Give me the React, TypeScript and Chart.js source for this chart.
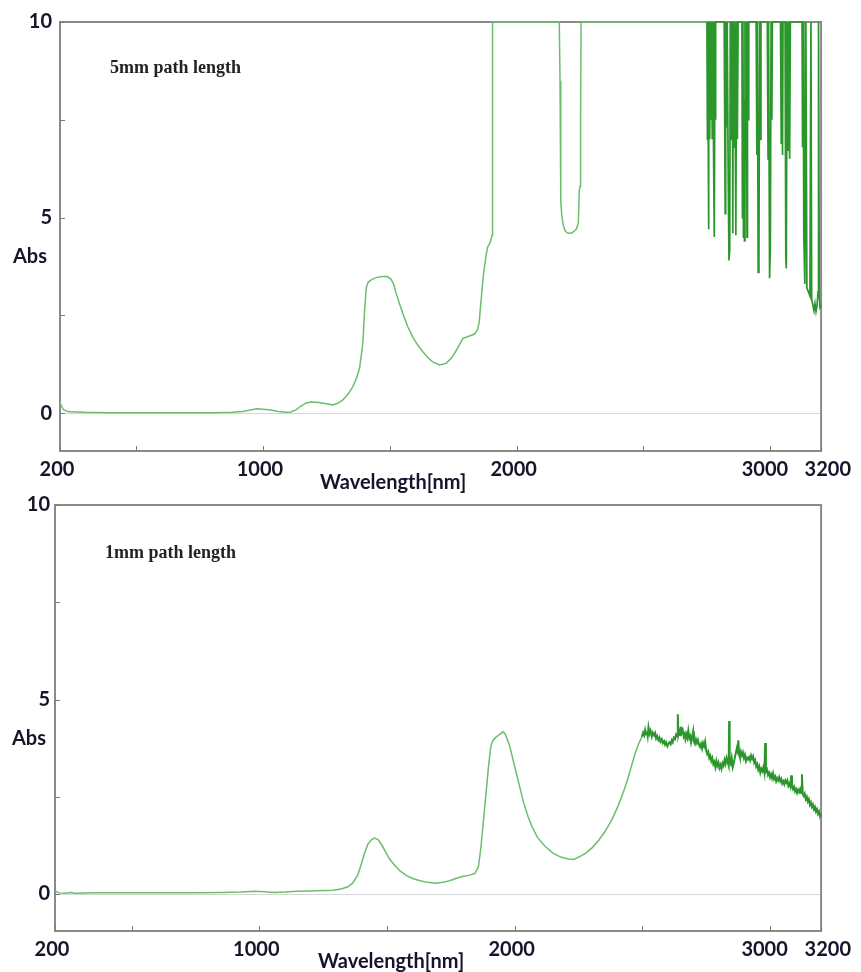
import React, { useEffect, useRef } from 'react';
import { Chart, registerables } from 'chart.js';
Chart.register(...registerables);

// ---------- data: 5 mm path length ----------
const wl5 = [
  200, 205, 215, 230, 260, 300, 400, 500, 600, 700, 800, 880, 920, 950, 975, 1000, 1030, 1060, 1090, 1110,
  1130, 1150, 1170, 1190, 1220, 1250, 1275, 1295, 1314, 1335, 1354, 1368, 1381, 1394, 1400, 1407, 1415, 1430,
  1450, 1470, 1490, 1505, 1515, 1525, 1538, 1551, 1570, 1590, 1610, 1630, 1650, 1669, 1696, 1722, 1742, 1762,
  1788, 1814, 1834, 1845, 1852, 1860, 1870, 1880, 1886, 1895, 1903, 1905,
  2168, 2171, 2174, 2178, 2184, 2190, 2197, 2205, 2215, 2225, 2235, 2243, 2247, 2250, 2252, 2254,
  2750, 2752, 2753, 2755, 2756, 2758, 2761, 2763, 2766, 2768, 2771, 2774, 2776, 2779, 2782, 2784, 2785,
  2818, 2820, 2822, 2824, 2828, 2830, 2834, 2837, 2840, 2842, 2845, 2847,
  2850, 2852, 2854, 2857, 2860, 2864, 2867, 2870, 2873,
  2888, 2890, 2892, 2894, 2896, 2898, 2900, 2903, 2905, 2908, 2910, 2913, 2915,
  2944, 2947, 2949, 2952, 2955, 2958, 2961, 2963,
  2988, 2991, 2993, 2997, 3000, 3003, 3006, 3008,
  3040, 3043, 3045, 3048, 3050, 3058, 3061, 3063, 3066, 3069, 3072, 3076, 3079,
  3125, 3127, 3129, 3132, 3136, 3140, 3144, 3150, 3156, 3160, 3163, 3168, 3172, 3176, 3180, 3184, 3188, 3190,
  3193, 3196, 3200,
];
const abs5 = [
  0.28, 0.18, 0.08, 0.04, 0.03, 0.02, 0.01, 0.01, 0.01, 0.01, 0.01, 0.02, 0.04, 0.08, 0.11, 0.1, 0.08, 0.04, 0.02, 0.03,
  0.08, 0.18, 0.26, 0.28, 0.27, 0.24, 0.21, 0.25, 0.33, 0.48, 0.67, 0.88, 1.15, 1.8, 2.55, 3.2, 3.35, 3.42,
  3.47, 3.49, 3.49, 3.42, 3.3, 3.06, 2.8, 2.55, 2.22, 1.95, 1.74, 1.57, 1.42, 1.31, 1.23, 1.27, 1.4, 1.6,
  1.91, 1.97, 2.02, 2.12, 2.3, 2.9, 3.6, 4.05, 4.25, 4.35, 4.55, 10,
  10, 8.5, 5.4, 5.05, 4.8, 4.68, 4.62, 4.6, 4.6, 4.64, 4.7, 4.85, 5.7, 5.8, 7.6, 10,
  10, 7, 10, 7.2, 4.7, 10, 7, 10, 7.5, 10, 7, 10, 6.8, 4.5, 10, 7.5, 10,
  10, 7.6, 5.1, 10, 7.3, 10, 6, 3.9, 4.2, 10, 7, 10,
  10, 4.6, 10, 6.8, 10, 4.55, 10, 7, 10,
  10, 5, 10, 4.5, 8, 4.4, 10, 6.5, 10, 4.5, 10, 7.5, 10,
  10, 6.6, 10, 3.6, 4, 10, 7, 10,
  10, 6.5, 10, 3.45, 4.2, 10, 7.5, 10,
  10, 6.9, 10, 6.6, 10, 10, 4, 3.7, 10, 6.7, 10, 6.5, 10,
  10, 6.8, 10, 4.5, 3.3, 10, 3.2, 3.1, 3.0, 10, 2.9, 2.75, 2.62, 2.8, 2.6, 2.75, 3.1, 10,
  3.0, 2.7, 2.75,
];

// ---------- data: 1 mm path length ----------
const wl1 = [
  200, 215, 240, 260, 280, 350, 450, 550, 650, 750, 850, 930, 980, 1020, 1060, 1100, 1150, 1200, 1250, 1290,
  1320, 1345, 1365, 1385, 1400, 1412, 1425, 1440, 1452, 1465, 1480, 1495, 1510, 1530, 1550, 1575, 1600, 1630,
  1660, 1690, 1720, 1745, 1770, 1795, 1820, 1845, 1858, 1868, 1878, 1888, 1898, 1907, 1915, 1925, 1940, 1955,
  1962, 1970, 1980, 1992, 2005, 2020, 2036, 2052, 2068, 2090, 2120, 2150, 2180, 2210, 2230, 2255, 2280, 2305,
  2330, 2355, 2380, 2405, 2430, 2446, 2460, 2472, 2485, 2498,
  2503, 2507, 2511, 2515, 2518, 2521, 2524, 2528, 2532, 2537, 2541, 2546, 2550, 2554, 2558, 2563, 2567, 2571,
  2576, 2580, 2585, 2589, 2593, 2598, 2602, 2606, 2611, 2615, 2619, 2623, 2628, 2632, 2636, 2639, 2641, 2644,
  2648, 2651, 2654, 2658, 2662, 2666, 2669, 2673, 2676, 2680, 2684, 2688, 2691, 2695, 2699, 2702, 2706, 2710,
  2714, 2718, 2722, 2726, 2730, 2734, 2738, 2742, 2746, 2750, 2754, 2758, 2762, 2766, 2770, 2774, 2778, 2782,
  2786, 2790, 2794, 2798, 2802, 2806, 2810, 2814, 2818, 2822, 2826, 2830, 2834, 2838, 2840, 2842, 2846, 2850,
  2854, 2858, 2862, 2866, 2870, 2873, 2876, 2879, 2882, 2886, 2890, 2894, 2898, 2902, 2906, 2910, 2914, 2918,
  2922, 2926, 2930, 2934, 2938, 2942, 2946, 2950, 2954, 2958, 2962, 2966, 2970, 2974, 2978, 2981, 2984, 2988,
  2992, 2996, 3000, 3004, 3008, 3012, 3016, 3020, 3024, 3028, 3032, 3036, 3040, 3044, 3048, 3052, 3056, 3060,
  3064, 3068, 3072, 3076, 3080, 3083, 3086, 3090, 3094, 3098, 3102, 3106, 3110, 3114, 3118, 3122, 3125, 3128,
  3132, 3136, 3140, 3144, 3148, 3152, 3156, 3160, 3164, 3168, 3172, 3176, 3180, 3184, 3188, 3192, 3196, 3200,
];
const abs1 = [
  0.08, 0.03, 0.02, 0.04, 0.02, 0.03, 0.03, 0.03, 0.03, 0.03, 0.04, 0.05, 0.07, 0.06, 0.04, 0.05, 0.07, 0.08, 0.09, 0.1,
  0.13, 0.18, 0.28, 0.48, 0.78, 1.05, 1.28, 1.4, 1.44, 1.4, 1.26, 1.08, 0.9, 0.74, 0.6, 0.48, 0.4, 0.34,
  0.3, 0.28, 0.3, 0.34, 0.4, 0.45, 0.48, 0.53, 0.7, 1.2, 1.9, 2.6, 3.3, 3.8, 3.95, 4.02, 4.1, 4.17,
  4.12, 4.0, 3.82, 3.5, 3.15, 2.75, 2.33, 2.0, 1.73, 1.45, 1.22, 1.05, 0.95, 0.9, 0.89, 0.96, 1.06, 1.2,
  1.39, 1.62, 1.9, 2.26, 2.7, 3.02, 3.35, 3.62, 3.85, 4.04,
  4.15, 4.08, 4.22, 4.1, 4.18, 4.06, 4.28, 4.12, 4.2, 4.05, 4.15, 4.08, 4.14, 4.0, 4.06, 3.96, 4.02, 3.92,
  3.98, 3.88, 3.93, 3.84, 3.9, 3.8, 3.86, 3.9, 3.85, 3.95, 3.9, 4.02, 3.98, 4.1, 4.05, 4.62, 4.1, 4.2,
  4.08, 4.3, 4.15, 4.22, 4.05, 4.12, 3.98, 4.1, 4.02, 4.2, 4.0, 4.06, 3.9, 4.02, 4.18, 3.92, 3.86, 3.98,
  3.88, 3.96, 3.84, 3.78, 3.86, 3.74, 3.88, 3.8, 3.92, 3.7, 3.6, 3.66, 3.5, 3.56, 3.42, 3.5, 3.34, 3.4,
  3.26, 3.42, 3.3, 3.38, 3.24, 3.32, 3.22, 3.36, 3.3, 3.45, 3.35, 3.5, 3.4, 3.3, 4.45, 3.4, 3.34, 3.5,
  3.26, 3.36, 3.5, 3.62, 3.75, 3.68, 3.95, 3.6, 3.52, 3.66, 3.56, 3.64, 3.5, 3.58, 3.42, 3.5, 3.46, 3.52,
  3.44, 3.56, 3.48, 3.54, 3.38, 3.44, 3.28, 3.34, 3.2, 3.28, 3.12, 3.22, 3.16, 3.26, 3.12, 3.88, 3.15, 3.2,
  3.06, 3.12, 3.0, 3.08, 2.98, 3.1, 2.96, 3.02, 2.9, 2.98, 2.92, 3.0, 2.9, 2.96, 2.84, 2.9, 2.82, 2.92,
  2.86, 2.92, 2.78, 2.84, 2.76, 3.05, 2.8, 2.7, 2.76, 2.64, 2.7, 2.6, 2.68, 2.62, 2.7, 2.6, 3.08, 2.58,
  2.52, 2.58, 2.44, 2.5, 2.38, 2.44, 2.3, 2.36, 2.24, 2.3, 2.18, 2.24, 2.12, 2.18, 2.06, 2.12, 2.0, 2.08,
];

// ---------- axes ----------
const xTicks = [200, 500, 1000, 1500, 2000, 2500, 3000, 3200];
const xTickLabels: Record<number, string> = { 200: '200', 1000: '1000', 2000: '2000', 3000: '3000 ', 3200: '    3200' };
const yTicks = [0, 2.5, 5, 7.5, 10];
const yTickLabels: Record<number, string> = { 0: '0', 5: '5', 10: '10' };

const TEXT = '#14142a';
const LIGHT = '#6cbd6c';
const DARK = '#2b962b';
const tickFont = { family: 'Lato', weight: 'bold' as const, size: 20 };

const framePlugin = {
  id: 'frame',
  beforeDatasetsDraw(chart: any) {
    const { ctx, chartArea: a } = chart;
    ctx.save();
    ctx.strokeStyle = '#8a8a8a';
    ctx.lineWidth = 2;
    ctx.strokeRect(a.left, a.top, a.right - a.left, a.bottom - a.top);
    // inward minor tick marks
    ctx.lineWidth = 1;
    ctx.strokeStyle = '#7a7a7a';
    const xs = chart.scales.x;
    const ys = chart.scales.y;
    xTicks.forEach((v) => {
      const px = Math.round(xs.getPixelForValue(v)) + 0.5;
      ctx.beginPath();
      ctx.moveTo(px, a.bottom);
      ctx.lineTo(px, a.bottom - 5);
      ctx.stroke();
    });
    yTicks.forEach((v) => {
      const py = Math.round(ys.getPixelForValue(v)) + 0.5;
      ctx.beginPath();
      ctx.moveTo(a.left, py);
      ctx.lineTo(a.left + 5, py);
      ctx.stroke();
    });
    ctx.restore();
  },
};

type PanelProps = {
  wl: number[];
  abs: number[];
  yMin: number;
  padLeft: number;
  padRight: number;
  padTop: number;
  yWidth: number;
  xHeight: number;
  yPad: number;
  darkFrom: number;
  darkWidth: number;
};

function Panel(p: PanelProps) {
  const ref = useRef<HTMLCanvasElement | null>(null);
  useEffect(() => {
    if (!ref.current) return;
    const points = p.wl.map((x, i) => ({ x, y: p.abs[i] }));
    const chart = new Chart(ref.current, {
      type: 'line',
      data: {
        datasets: [
          {
            data: points,
            borderColor: LIGHT,
            borderWidth: 1.5,
            pointRadius: 0,
            tension: 0,
            clip: 3,
            segment: {
              borderColor: (c: any) => (c.p0.parsed.x >= p.darkFrom ? DARK : LIGHT),
              borderWidth: (c: any) => (c.p0.parsed.x >= p.darkFrom ? p.darkWidth : 1.5),
            },
          } as any,
        ],
      },
      options: {
        animation: false,
        responsive: false,
        devicePixelRatio: 1,
        layout: { padding: { left: p.padLeft, right: p.padRight, top: p.padTop, bottom: 0 } },
        plugins: { legend: { display: false }, tooltip: { enabled: false }, title: { display: false } },
        scales: {
          x: {
            type: 'linear',
            min: 200,
            max: 3200,
            afterBuildTicks: (s: any) => {
              s.ticks = xTicks.map((v) => ({ value: v }));
            },
            afterFit: (s: any) => {
              s.height = p.xHeight;
            },
            ticks: {
              autoSkip: false,
              maxRotation: 0,
              padding: 7,
              labelOffset: -3,
              font: tickFont,
              color: TEXT,
              callback: (v: any) => xTickLabels[v as number] ?? '',
            },
            grid: { display: false, drawTicks: false },
            border: { display: false },
          },
          y: {
            type: 'linear',
            min: p.yMin,
            max: 10,
            afterBuildTicks: (s: any) => {
              s.ticks = yTicks.map((v) => ({ value: v }));
            },
            afterFit: (s: any) => {
              s.width = p.yWidth;
            },
            ticks: {
              autoSkip: false,
              padding: p.yPad,
              font: tickFont,
              color: TEXT,
              callback: (v: any) => yTickLabels[v as number] ?? '',
            },
            grid: {
              drawTicks: false,
              lineWidth: 1,
              color: (c: any) => (c.tick && c.tick.value === 0 ? '#d6d6d6' : 'rgba(0,0,0,0)'),
            },
            border: { display: false },
          },
        },
      },
      plugins: [framePlugin],
    });
    return () => chart.destroy();
  }, []);
  return <canvas ref={ref} width={861} height={486} style={{ display: 'block', width: 861, height: 486 }} />;
}

const labelStyle: React.CSSProperties = {
  position: 'absolute',
  fontFamily: 'Lato',
  fontWeight: 'bold',
  fontSize: 20,
  lineHeight: '20px',
  color: TEXT,
  whiteSpace: 'nowrap',
};
const noteStyle: React.CSSProperties = {
  position: 'absolute',
  fontFamily: '"Liberation Serif", serif',
  fontWeight: 'bold',
  fontSize: 18,
  lineHeight: '18px',
  color: '#222',
  whiteSpace: 'nowrap',
};

export default function App() {
  return (
    <div style={{ position: 'absolute', left: 0, top: 0, width: 861, height: 972, background: '#fff', overflow: 'hidden' }}>
      <div style={{ position: 'absolute', left: 0, top: 0 }}>
        <Panel wl={wl5} abs={abs5} yMin={-0.97} padLeft={5} padRight={39} padTop={22} yWidth={55} xHeight={35} yPad={8} darkFrom={2740} darkWidth={1.7} />
      </div>
      <div style={{ position: 'absolute', left: 0, top: 486 }}>
        <Panel wl={wl1} abs={abs1} yMin={-0.95} padLeft={5} padRight={38} padTop={19} yWidth={50} xHeight={41} yPad={5} darkFrom={2495} darkWidth={2} />
      </div>
      <div style={{ ...noteStyle, left: 110, top: 58 }}>5mm path length</div>
      <div style={{ ...noteStyle, left: 105, top: 543 }}>1mm path length</div>
      <div style={{ ...labelStyle, left: 13, top: 245 }}>Abs</div>
      <div style={{ ...labelStyle, left: 12, top: 727 }}>Abs</div>
      <div style={{ ...labelStyle, left: 320, top: 471 }}>Wavelength[nm]</div>
      <div style={{ ...labelStyle, left: 318, top: 950 }}>Wavelength[nm]</div>
    </div>
  );
}
